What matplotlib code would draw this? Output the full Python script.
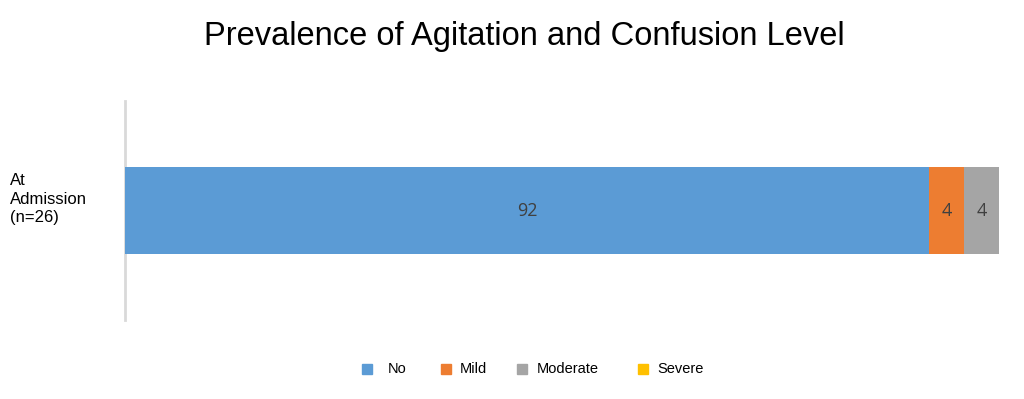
import matplotlib
matplotlib.use("Agg")
import matplotlib.pyplot as plt
from matplotlib.patches import Rectangle

categories = ["At\nAdmission\n(n=26)"]
series_names = ["No", "Mild", "Moderate", "Severe"]
values = [92, 4, 4, 0]
colors = ["#5b9bd5", "#ed7d31", "#a5a5a5", "#ffc000"]

plt.rcParams['font.family'] = ['Liberation Sans', 'DejaVu Sans']

W, H = 1024, 399
fig = plt.figure(figsize=(W/100, H/100), dpi=100)
ax = fig.add_axes([125/W, 1-320/H, 874/W, 219/H])

left = 0
for name, v, c in zip(series_names, values, colors):
    ax.barh(0, v, left=left, height=0.8, color=c, label=name, zorder=1)
    if v > 0:
        ax.text(left + v/2, 0, str(v), ha='center', va='center', fontsize=13,
                color='#404040', family=['Open Sans', 'DejaVu Sans'])
    left += v

ax.set_xlim(0, 100)
ax.set_ylim(-1, 1)
ax.set_xticks([])
ax.set_yticks([])
for s in ['top', 'right', 'bottom']:
    ax.spines[s].set_visible(False)
ax.spines['left'].set_color('#d9d9d9')
ax.spines['left'].set_linewidth(2)
ax.spines['left'].set_zorder(0)

fig.text(10/W, 1-199/H, categories[0], ha='left', va='center', fontsize=12,
         linespacing=1.3)

fig.text(524/W, 1-36/H, "Prevalence of Agitation and Confusion Level", ha='center',
         va='center', fontsize=23.5)

# manual legend layout (pixel positions of square centers and text starts)
sq_centers = [367, 446, 522, 643]
txt_left = [388, 460, 537, 657]
leg_y = 369
sq = 10
for name, c, xc, xt in zip(series_names, colors, sq_centers, txt_left):
    fig.patches.append(Rectangle(((xc - sq/2)/W, 1-(leg_y + sq/2)/H), sq/W, sq/H,
                                 transform=fig.transFigure, color=c, figure=fig))
    fig.text(xt/W, 1-leg_y/H, name, ha='left', va='center', fontsize=10.5)

fig.savefig("out.png", dpi=100)
